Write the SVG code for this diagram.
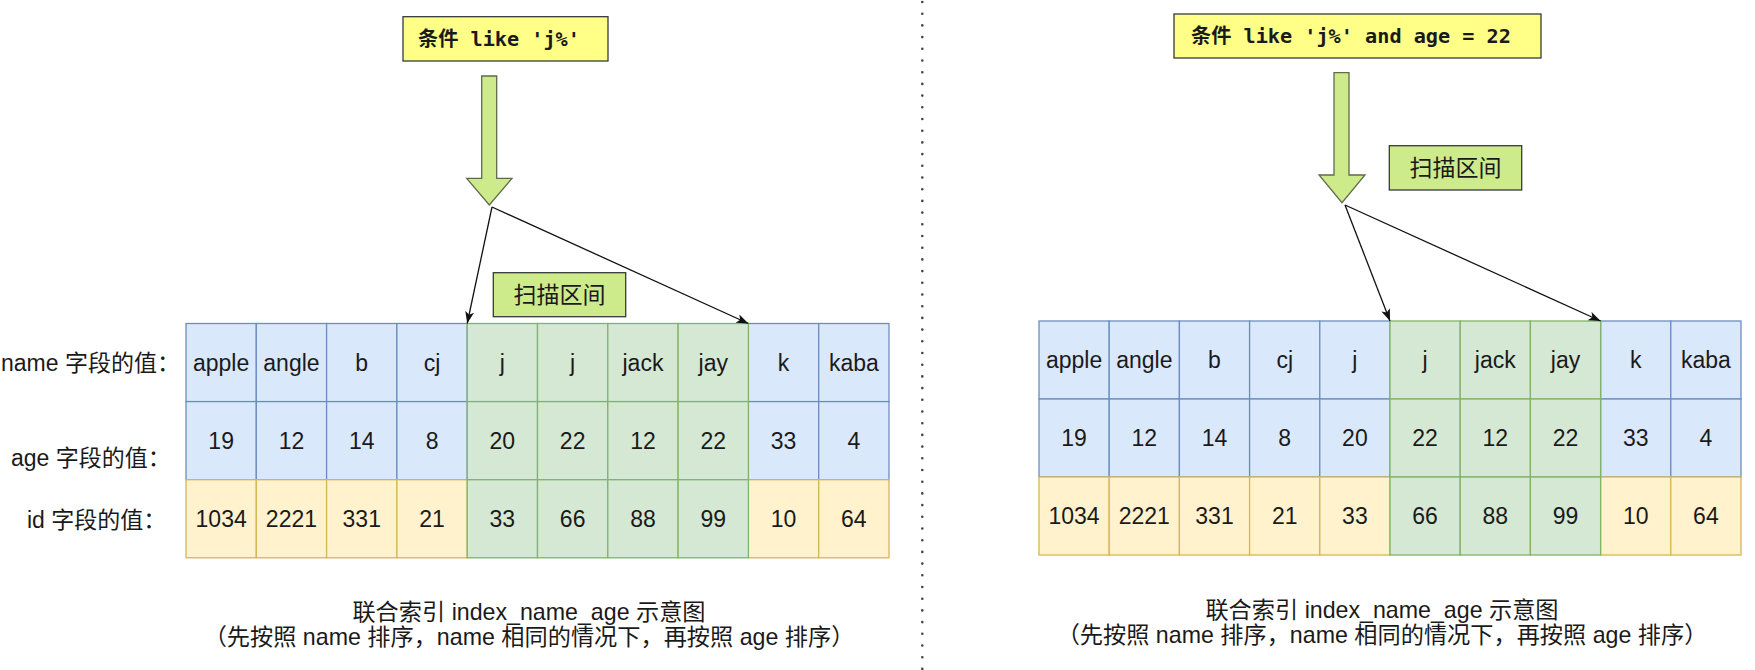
<svg xmlns="http://www.w3.org/2000/svg" width="1755" height="670" viewBox="0 0 1755 670">
<style>
.bg{fill:#ffffff}
.b rect{fill:#dae8fc;stroke:#6c8ebf;stroke-width:1.3}
.y rect{fill:#fff2cc;stroke:#d6b656;stroke-width:1.3}
.g rect{fill:#d5e8d4;stroke:#82b366;stroke-width:1.3}
.c text,.lbl,.cap{font-family:"Liberation Sans","Noto Sans CJK SC",sans-serif;font-size:23px;fill:#1a1a1a}
.c text{text-anchor:middle}
.cap{text-anchor:middle;font-size:23.2px}
.cond rect{fill:#ffff88;stroke:#36393d;stroke-width:1.3}
.cond text{font-family:"DejaVu Sans Mono","Noto Sans CJK SC",monospace;font-size:20.2px;font-weight:bold;fill:#1a1a1a}
.scan rect{fill:#cdeb8b;stroke:#36393d;stroke-width:1.3}
.scan text{font-family:"Noto Sans CJK SC",sans-serif;font-size:23px;text-anchor:middle;fill:#1a1a1a}
.blk{fill:#cdeb8b;stroke:#5f6b4c;stroke-width:1.3}
.con{fill:none;stroke:#111;stroke-width:1.3}
</style>
<defs>
<marker id="ah" markerUnits="userSpaceOnUse" markerWidth="12" markerHeight="10" refX="12" refY="4.5" orient="auto">
<path d="M0,0 L12,4.5 L0,9 L3,4.5 Z" fill="#111"/>
</marker>
</defs>
<rect class="bg" x="0" y="0" width="1755" height="670"/>

<!-- divider -->
<g id="divider">
<line x1="922.3" y1="2" x2="922.3" y2="670" stroke="#444" stroke-width="2.6" stroke-dasharray="0 11.7" stroke-linecap="round"/>
</g>

<!-- LEFT -->
<g id="cond-left" class="cond">
<rect x="403" y="16.7" width="205" height="44.3"/>
<text x="418" y="46">条件 like 'j%'</text>
</g>
<g id="bigarrow-left"><path class="blk" d="M481.7,76 H496.7 V178.3 H512 L489.3,205 L466.7,178.3 H481.7 Z"/></g>
<g id="scan-left" class="scan">
<rect x="493.3" y="272.7" width="132.4" height="44"/>
<text x="559.5" y="303">扫描区间</text>
</g>
<g id="labels-left">
<text class="lbl" x="1" y="371">name 字段的值：</text>
<text class="lbl" x="11" y="466">age 字段的值：</text>
<text class="lbl" x="27" y="528">id 字段的值：</text>
</g>

<g id="table-left">
<g class="c b" id="L-n0"><rect x="186" y="323.5" width="70.3" height="78.1"/><text x="221.15" y="370.7">apple</text></g>
<g class="c b" id="L-n1"><rect x="256.3" y="323.5" width="70.3" height="78.1"/><text x="291.45" y="370.7">angle</text></g>
<g class="c b" id="L-n2"><rect x="326.6" y="323.5" width="70.3" height="78.1"/><text x="361.75" y="370.7">b</text></g>
<g class="c b" id="L-n3"><rect x="396.9" y="323.5" width="70.3" height="78.1"/><text x="432.05" y="370.7">cj</text></g>
<g class="c b" id="L-n8"><rect x="748.4" y="323.5" width="70.3" height="78.1"/><text x="783.55" y="370.7">k</text></g>
<g class="c b" id="L-n9"><rect x="818.7" y="323.5" width="70.3" height="78.1"/><text x="853.85" y="370.7">kaba</text></g>
<g class="c b" id="L-a0"><rect x="186" y="401.6" width="70.3" height="78.1"/><text x="221.15" y="448.8">19</text></g>
<g class="c b" id="L-a1"><rect x="256.3" y="401.6" width="70.3" height="78.1"/><text x="291.45" y="448.8">12</text></g>
<g class="c b" id="L-a2"><rect x="326.6" y="401.6" width="70.3" height="78.1"/><text x="361.75" y="448.8">14</text></g>
<g class="c b" id="L-a3"><rect x="396.9" y="401.6" width="70.3" height="78.1"/><text x="432.05" y="448.8">8</text></g>
<g class="c b" id="L-a8"><rect x="748.4" y="401.6" width="70.3" height="78.1"/><text x="783.55" y="448.8">33</text></g>
<g class="c b" id="L-a9"><rect x="818.7" y="401.6" width="70.3" height="78.1"/><text x="853.85" y="448.8">4</text></g>
<g class="c y" id="L-i0"><rect x="186" y="479.7" width="70.3" height="78.1"/><text x="221.15" y="526.9">1034</text></g>
<g class="c y" id="L-i1"><rect x="256.3" y="479.7" width="70.3" height="78.1"/><text x="291.45" y="526.9">2221</text></g>
<g class="c y" id="L-i2"><rect x="326.6" y="479.7" width="70.3" height="78.1"/><text x="361.75" y="526.9">331</text></g>
<g class="c y" id="L-i3"><rect x="396.9" y="479.7" width="70.3" height="78.1"/><text x="432.05" y="526.9">21</text></g>
<g class="c y" id="L-i8"><rect x="748.4" y="479.7" width="70.3" height="78.1"/><text x="783.55" y="526.9">10</text></g>
<g class="c y" id="L-i9"><rect x="818.7" y="479.7" width="70.3" height="78.1"/><text x="853.85" y="526.9">64</text></g>
<g class="c g" id="L-n4"><rect x="467.2" y="323.5" width="70.3" height="78.1"/><text x="502.35" y="370.7">j</text></g>
<g class="c g" id="L-n5"><rect x="537.5" y="323.5" width="70.3" height="78.1"/><text x="572.65" y="370.7">j</text></g>
<g class="c g" id="L-n6"><rect x="607.8" y="323.5" width="70.3" height="78.1"/><text x="642.95" y="370.7">jack</text></g>
<g class="c g" id="L-n7"><rect x="678.1" y="323.5" width="70.3" height="78.1"/><text x="713.25" y="370.7">jay</text></g>
<g class="c g" id="L-a4"><rect x="467.2" y="401.6" width="70.3" height="78.1"/><text x="502.35" y="448.8">20</text></g>
<g class="c g" id="L-a5"><rect x="537.5" y="401.6" width="70.3" height="78.1"/><text x="572.65" y="448.8">22</text></g>
<g class="c g" id="L-a6"><rect x="607.8" y="401.6" width="70.3" height="78.1"/><text x="642.95" y="448.8">12</text></g>
<g class="c g" id="L-a7"><rect x="678.1" y="401.6" width="70.3" height="78.1"/><text x="713.25" y="448.8">22</text></g>
<g class="c g" id="L-i4"><rect x="467.2" y="479.7" width="70.3" height="78.1"/><text x="502.35" y="526.9">33</text></g>
<g class="c g" id="L-i5"><rect x="537.5" y="479.7" width="70.3" height="78.1"/><text x="572.65" y="526.9">66</text></g>
<g class="c g" id="L-i6"><rect x="607.8" y="479.7" width="70.3" height="78.1"/><text x="642.95" y="526.9">88</text></g>
<g class="c g" id="L-i7"><rect x="678.1" y="479.7" width="70.3" height="78.1"/><text x="713.25" y="526.9">99</text></g>
</g>
<g id="caption-left">
<text class="cap" x="529" y="620">联合索引 index_name_age 示意图</text>
<text class="cap" x="529" y="645">（先按照 name 排序，name 相同的情况下，再按照 age 排序）</text>
</g>

<!-- RIGHT -->
<g id="cond-right" class="cond">
<rect x="1174" y="14" width="367" height="44"/>
<text x="1191" y="43">条件 like 'j%' and age = 22</text>
</g>
<g id="bigarrow-right"><path class="blk" d="M1334,72.7 H1349 V175 H1365 L1342,202.7 L1319,175 H1334 Z"/></g>
<g id="scan-right" class="scan">
<rect x="1389.3" y="145.7" width="132.4" height="44.3"/>
<text x="1455.5" y="176">扫描区间</text>
</g>

<g id="table-right">
<g class="c b" id="R-n0"><rect x="1039" y="321" width="70.2" height="78"/><text x="1074.1" y="368.2">apple</text></g>
<g class="c b" id="R-n1"><rect x="1109.2" y="321" width="70.2" height="78"/><text x="1144.3" y="368.2">angle</text></g>
<g class="c b" id="R-n2"><rect x="1179.4" y="321" width="70.2" height="78"/><text x="1214.5" y="368.2">b</text></g>
<g class="c b" id="R-n3"><rect x="1249.6" y="321" width="70.2" height="78"/><text x="1284.7" y="368.2">cj</text></g>
<g class="c b" id="R-n4"><rect x="1319.8" y="321" width="70.2" height="78"/><text x="1354.9" y="368.2">j</text></g>
<g class="c b" id="R-n8"><rect x="1600.6" y="321" width="70.2" height="78"/><text x="1635.7" y="368.2">k</text></g>
<g class="c b" id="R-n9"><rect x="1670.8" y="321" width="70.2" height="78"/><text x="1705.9" y="368.2">kaba</text></g>
<g class="c b" id="R-a0"><rect x="1039" y="399" width="70.2" height="78"/><text x="1074.1" y="446.2">19</text></g>
<g class="c b" id="R-a1"><rect x="1109.2" y="399" width="70.2" height="78"/><text x="1144.3" y="446.2">12</text></g>
<g class="c b" id="R-a2"><rect x="1179.4" y="399" width="70.2" height="78"/><text x="1214.5" y="446.2">14</text></g>
<g class="c b" id="R-a3"><rect x="1249.6" y="399" width="70.2" height="78"/><text x="1284.7" y="446.2">8</text></g>
<g class="c b" id="R-a4"><rect x="1319.8" y="399" width="70.2" height="78"/><text x="1354.9" y="446.2">20</text></g>
<g class="c b" id="R-a8"><rect x="1600.6" y="399" width="70.2" height="78"/><text x="1635.7" y="446.2">33</text></g>
<g class="c b" id="R-a9"><rect x="1670.8" y="399" width="70.2" height="78"/><text x="1705.9" y="446.2">4</text></g>
<g class="c y" id="R-i0"><rect x="1039" y="477" width="70.2" height="78"/><text x="1074.1" y="524.2">1034</text></g>
<g class="c y" id="R-i1"><rect x="1109.2" y="477" width="70.2" height="78"/><text x="1144.3" y="524.2">2221</text></g>
<g class="c y" id="R-i2"><rect x="1179.4" y="477" width="70.2" height="78"/><text x="1214.5" y="524.2">331</text></g>
<g class="c y" id="R-i3"><rect x="1249.6" y="477" width="70.2" height="78"/><text x="1284.7" y="524.2">21</text></g>
<g class="c y" id="R-i4"><rect x="1319.8" y="477" width="70.2" height="78"/><text x="1354.9" y="524.2">33</text></g>
<g class="c y" id="R-i8"><rect x="1600.6" y="477" width="70.2" height="78"/><text x="1635.7" y="524.2">10</text></g>
<g class="c y" id="R-i9"><rect x="1670.8" y="477" width="70.2" height="78"/><text x="1705.9" y="524.2">64</text></g>
<g class="c g" id="R-n5"><rect x="1390" y="321" width="70.2" height="78"/><text x="1425.1" y="368.2">j</text></g>
<g class="c g" id="R-n6"><rect x="1460.2" y="321" width="70.2" height="78"/><text x="1495.3" y="368.2">jack</text></g>
<g class="c g" id="R-n7"><rect x="1530.4" y="321" width="70.2" height="78"/><text x="1565.5" y="368.2">jay</text></g>
<g class="c g" id="R-a5"><rect x="1390" y="399" width="70.2" height="78"/><text x="1425.1" y="446.2">22</text></g>
<g class="c g" id="R-a6"><rect x="1460.2" y="399" width="70.2" height="78"/><text x="1495.3" y="446.2">12</text></g>
<g class="c g" id="R-a7"><rect x="1530.4" y="399" width="70.2" height="78"/><text x="1565.5" y="446.2">22</text></g>
<g class="c g" id="R-i5"><rect x="1390" y="477" width="70.2" height="78"/><text x="1425.1" y="524.2">66</text></g>
<g class="c g" id="R-i6"><rect x="1460.2" y="477" width="70.2" height="78"/><text x="1495.3" y="524.2">88</text></g>
<g class="c g" id="R-i7"><rect x="1530.4" y="477" width="70.2" height="78"/><text x="1565.5" y="524.2">99</text></g>
</g>
<g id="caption-right">
<text class="cap" x="1382" y="618">联合索引 index_name_age 示意图</text>
<text class="cap" x="1382" y="643">（先按照 name 排序，name 相同的情况下，再按照 age 排序）</text>
</g>

<!-- connectors -->
<g id="connectors">
<path class="con" d="M492,207 L467.2,323.5" marker-end="url(#ah)"/>
<path class="con" d="M492,207 L748.4,323.5" marker-end="url(#ah)"/>
<path class="con" d="M1345,205 L1390,321" marker-end="url(#ah)"/>
<path class="con" d="M1345,205 L1600.6,321" marker-end="url(#ah)"/>
</g>
</svg>
